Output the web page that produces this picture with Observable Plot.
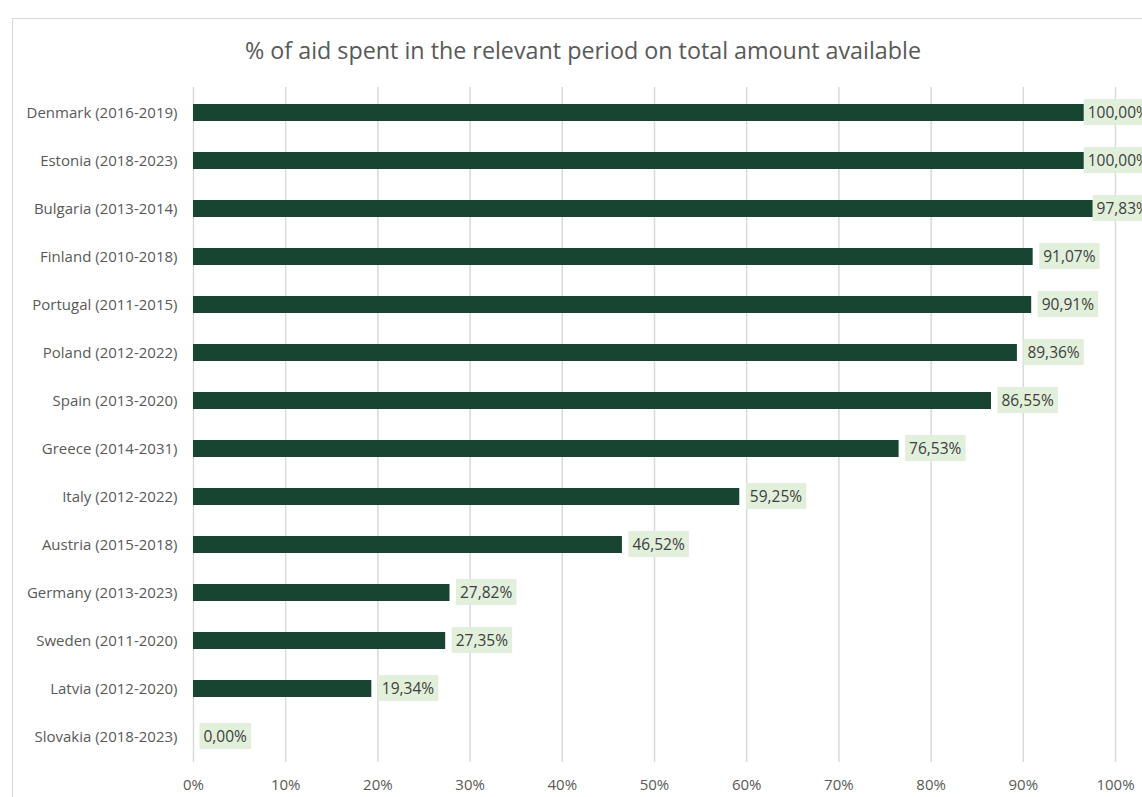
<!DOCTYPE html>
<html>
<head>
<meta charset="utf-8">
<script src="https://cdn.jsdelivr.net/npm/d3@7"></script>
<script src="https://cdn.jsdelivr.net/npm/@observablehq/plot@0.6"></script>
<style>
  body { margin: 0; background: #fff; font-family: "Open Sans", sans-serif; overflow: hidden; }
  #frame { position: absolute; left: 12px; top: 18px; width: 1160px; height: 800px; border: 1px solid #d9d9d9; box-sizing: border-box; pointer-events: none; }
  #title { height: 70px; box-sizing: border-box; padding-top: 36px; font-size: 23.3px; line-height: 28px; color: #595959; text-align: center; padding-left: 24px; }
  #chart { position: relative; }
</style>
</head>
<body>
<div id="frame"></div>
<div id="title">% of aid spent in the relevant period on total amount available</div>
<div id="chart"></div>
<script>
const countries = [
  "Denmark (2016-2019)", "Estonia (2018-2023)", "Bulgaria (2013-2014)", "Finland (2010-2018)",
  "Portugal (2011-2015)", "Poland (2012-2022)", "Spain (2013-2020)", "Greece (2014-2031)",
  "Italy (2012-2022)", "Austria (2015-2018)", "Germany (2013-2023)", "Sweden (2011-2020)",
  "Latvia (2012-2020)", "Slovakia (2018-2023)"
];
const values = [100.00, 100.00, 97.83, 91.07, 90.91, 89.36, 86.55, 76.53, 59.25, 46.52, 27.82, 27.35, 19.34, 0.00];
const xTicks = [0, 10, 20, 30, 40, 50, 60, 70, 80, 90, 100];

const data = countries.map((c, i) => ({country: c, value: values[i]}));
const fmt = v => v.toFixed(2).replace(".", ",") + "%";

const plot = Plot.plot({
  width: 1142,
  height: 727,
  marginLeft: 193,
  marginRight: 27,
  marginTop: 17,
  marginBottom: 35,
  style: { fontFamily: "'Open Sans', sans-serif", fontSize: "15px", color: "#595959", background: "transparent" },
  x: { domain: [0, 100] },
  y: { domain: countries, paddingInner: 0.65, paddingOuter: 0.325, align: 0.5 },
  marks: [
    Plot.ruleX(xTicks, { stroke: "#d9d9d9", strokeWidth: 1.5 }),
    Plot.barX(data, { y: "country", x: "value", fill: "#174532" }),
    Plot.text(data, {
      y: "country", x: "value", text: d => fmt(d.value),
      textAnchor: "start", dx: 10, fill: "#404040", fontSize: 15.5
    }),
    Plot.axisY({ tickSize: 0, tickPadding: 16, fontSize: 15, label: null }),
    Plot.axisX({ ticks: xTicks, tickFormat: d => d + "%", tickSize: 0, tickPadding: 17, fontSize: 15, label: null })
  ]
});
document.getElementById("chart").appendChild(plot);

// Excel-style label boxes behind value labels
const svgBox = plot.getBoundingClientRect();
const g = plot.querySelector('g[aria-label="text"]');
if (g) {
  const rightLimit = 1153;
  const ns = "http://www.w3.org/2000/svg";
  const boxes = document.createElementNS(ns, "g");
  g.parentNode.insertBefore(boxes, g);
  Array.from(g.querySelectorAll("text")).forEach(t => {
    const r = t.getBoundingClientRect();
    const x0 = r.left - svgBox.left - 4;
    const w = r.width + 8;
    const cy = r.top - svgBox.top + r.height / 2;
    let shift = 0;
    if (x0 + w > rightLimit) shift = x0 + w - rightLimit;
    const rect = document.createElementNS(ns, "rect");
    rect.setAttribute("x", x0 - shift);
    rect.setAttribute("y", cy - 13);
    rect.setAttribute("width", w);
    rect.setAttribute("height", 26);
    rect.setAttribute("fill", "#e2efda");
    boxes.appendChild(rect);
    if (shift) {
      const wrap = document.createElementNS(ns, "g");
      wrap.setAttribute("transform", `translate(${-shift},0)`);
      t.parentNode.insertBefore(wrap, t);
      wrap.appendChild(t);
    }
  });
  g.parentNode.appendChild(boxes);
  g.parentNode.appendChild(g);
}
</script>
</body>
</html>
